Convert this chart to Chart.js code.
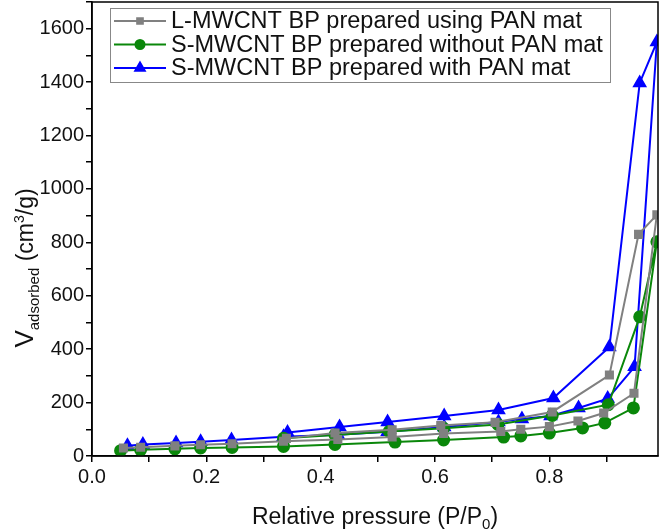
<!DOCTYPE html>
<html>
<head>
<meta charset="utf-8">
<script src="https://cdn.jsdelivr.net/npm/chart.js@4"></script>
<style>
  html, body { margin: 0; padding: 0; background: #fff; }
  #wrap { width: 661px; height: 531px; position: relative; }
</style>
</head>
<body>
<div id="wrap"><canvas id="chart"></canvas></div>
<script>
// rótulos das séries
const nomes = [
  'L-MWCNT BP prepared using PAN mat',
  'S-MWCNT BP prepared without PAN mat',
  'S-MWCNT BP prepared with PAN mat'
]

// L-MWCNT (cinza): adsorção e depois dessorção
const pressaoCinza = [0.055, 0.085, 0.145, 0.19, 0.245, 0.335, 0.43, 0.525, 0.615, 0.715, 0.75, 0.80, 0.85, 0.895, 0.948, 0.988,
                      0.956, 0.905, 0.805, 0.705, 0.61, 0.525, 0.425, 0.34]
const volumeCinza = [30, 33, 38, 42, 46, 55, 62, 71, 84, 92, 100, 110, 131, 161, 235, 903,
                     830, 303, 165, 126, 114, 98, 86, 66]

// S-MWCNT sem PAN (verde)
const pressaoVerde = [0.05, 0.085, 0.145, 0.19, 0.245, 0.335, 0.425, 0.53, 0.615, 0.72, 0.75, 0.80, 0.858, 0.897, 0.947, 0.988,
                      0.958, 0.903, 0.805, 0.71, 0.615, 0.52, 0.425, 0.335]
const volumeVerde = [20, 23, 27, 30, 32, 36, 43, 52, 60, 71, 75, 86, 105, 124, 180, 802,
                     521, 192, 152, 118, 104, 92, 79, 66]

// S-MWCNT com PAN (azul)
const pressaoAzul = [0.062, 0.089, 0.147, 0.19, 0.244, 0.335, 0.43, 0.517, 0.616, 0.711, 0.752, 0.802, 0.851, 0.902, 0.949, 0.988,
                     0.958, 0.905, 0.807, 0.711, 0.616, 0.517, 0.433, 0.342]
const volumeAzul = [38, 43, 49, 53, 60, 72, 80, 91, 109, 127, 139, 150, 180, 215, 334, 1550,
                    1397, 408, 217, 172, 150, 127, 109, 88]

// marcas dos eixos
const ticksX = [0, 0.2, 0.4, 0.6, 0.8]
const ticksY = [0, 200, 400, 600, 800, 1000, 1200, 1400, 1600]

const fonte = '"Liberation Sans", Arial, sans-serif'

function pontos (xs, ys) {
  return xs.map((x, i) => ({ x: x, y: ys[i] }))
}

const cores = ['#808080', '#0a870a', '#0000ff']
const estilos = ['rect', 'circle', 'triangle']
const raios = [5, 5.5, 6.5]
const dados = [
  pontos(pressaoCinza, volumeCinza),
  pontos(pressaoVerde, volumeVerde),
  pontos(pressaoAzul, volumeAzul)
]

// moldura em volta da área do gráfico
const moldura = {
  id: 'moldura',
  afterDatasetsDraw (chart) {
    const { ctx, chartArea: a } = chart
    ctx.save()
    ctx.strokeStyle = '#000'
    ctx.lineWidth = 1.5
    ctx.strokeRect(a.left, a.top, a.right - a.left, a.bottom - a.top)
    ctx.restore()
  }
}

// títulos dos eixos com subscrito / sobrescrito
function pedacos (ctx, partes) {
  let w = 0
  for (const p of partes) {
    ctx.font = p.size + 'px ' + fonte
    p.w = ctx.measureText(p.t).width
    w += p.w
  }
  return w
}
function escrever (ctx, partes, x0, base) {
  let x = x0
  for (const p of partes) {
    ctx.font = p.size + 'px ' + fonte
    ctx.fillText(p.t, x, base + (p.dy || 0))
    x += p.w
  }
}

const titulos = {
  id: 'titulos',
  afterDraw (chart) {
    const { ctx, chartArea: a } = chart
    ctx.save()
    ctx.fillStyle = '#111'
    ctx.textBaseline = 'alphabetic'
    ctx.textAlign = 'left'

    const px = [
      { t: 'Relative pressure (P/P', size: 23 },
      { t: '0', size: 15, dy: 5 },
      { t: ')', size: 23 }
    ]
    const wx = pedacos(ctx, px)
    escrever(ctx, px, (a.left + a.right) / 2 - wx / 2, 524)

    const py = [
      { t: 'V', size: 26 },
      { t: 'adsorbed', size: 15, dy: 6 },
      { t: ' (cm', size: 23 },
      { t: '3', size: 14, dy: -9 },
      { t: '/g)', size: 23 }
    ]
    const wy = pedacos(ctx, py)
    ctx.translate(33, 268)
    ctx.rotate(-Math.PI / 2)
    escrever(ctx, py, -wy / 2, 0)
    ctx.restore()
  }
}

// legenda desenhada à mão (linha + marcador)
const legenda = {
  id: 'legenda',
  afterDraw (chart) {
    const { ctx } = chart
    ctx.save()
    ctx.strokeStyle = '#888'
    ctx.lineWidth = 1
    ctx.strokeRect(110.5, 8.5, 500, 74)
    nomes.forEach((nome, i) => {
      const y = 21 + i * 23.5
      ctx.strokeStyle = cores[i]
      ctx.lineWidth = 2
      ctx.beginPath()
      ctx.moveTo(114, y)
      ctx.lineTo(166, y)
      ctx.stroke()
      Chart.helpers.drawPoint(ctx, { pointStyle: estilos[i], radius: raios[i] - 1, borderWidth: 1 }, 140, y)
      ctx.fillStyle = cores[i]
      ctx.fill()
      ctx.fillStyle = '#111'
      ctx.font = '23.5px ' + fonte
      ctx.textBaseline = 'middle'
      ctx.fillText(nome, 171, y + 1)
    })
    ctx.restore()
  }
}

new Chart('chart', {
  type: 'scatter',
  data: {
    datasets: dados.map((d, i) => ({
      label: nomes[i],
      data: d,
      showLine: true,
      borderColor: cores[i],
      backgroundColor: cores[i],
      borderWidth: 2,
      pointStyle: estilos[i],
      pointRadius: raios[i],
      pointHoverRadius: raios[i],
      tension: 0
    }))
  },
  options: {
    responsive: true,
    maintainAspectRatio: false,
    animation: false,
    layout: { autoPadding: false, padding: { top: 2, right: 3, left: 30, bottom: 0 } },
    plugins: {
      legend: { display: false },
      tooltip: { enabled: false }
    },
    scales: {
      x: {
        type: 'linear',
        min: 0,
        max: 0.99,
        afterFit (s) { s.height = 75; s.paddingLeft = 0; s.paddingRight = 0 },
        afterBuildTicks (s) {
          s.ticks = [0, 0.1, 0.2, 0.3, 0.4, 0.5, 0.6, 0.7, 0.8, 0.9].map(v => ({ value: v }))
        },
        ticks: {
          color: '#111',
          font: { family: fonte, size: 20 },
          maxRotation: 0,
          autoSkip: false,
          padding: 3,
          callback: v => {
            const t = ticksX.find(m => Math.abs(m - v) < 1e-6)
            return t === undefined ? '' : t.toFixed(1)
          }
        },
        grid: { drawOnChartArea: false, drawTicks: true, tickLength: 6, color: '#000', lineWidth: 1.5 },
        border: { display: true, color: '#000', width: 1.5 }
      },
      y: {
        min: 0,
        max: 1700,
        afterFit (s) { s.width = 62; s.paddingTop = 0; s.paddingBottom = 0 },
        ticks: {
          stepSize: 100,
          color: '#111',
          font: { family: fonte, size: 20 },
          autoSkip: false,
          padding: 2,
          callback: v => ticksY.includes(v) ? String(v) : ''
        },
        grid: { drawOnChartArea: false, drawTicks: true, tickLength: 6, color: '#000', lineWidth: 1.5 },
        border: { display: true, color: '#000', width: 1.5 }
      }
    }
  },
  plugins: [moldura, titulos, legenda]
})
</script>
</body>
</html>
